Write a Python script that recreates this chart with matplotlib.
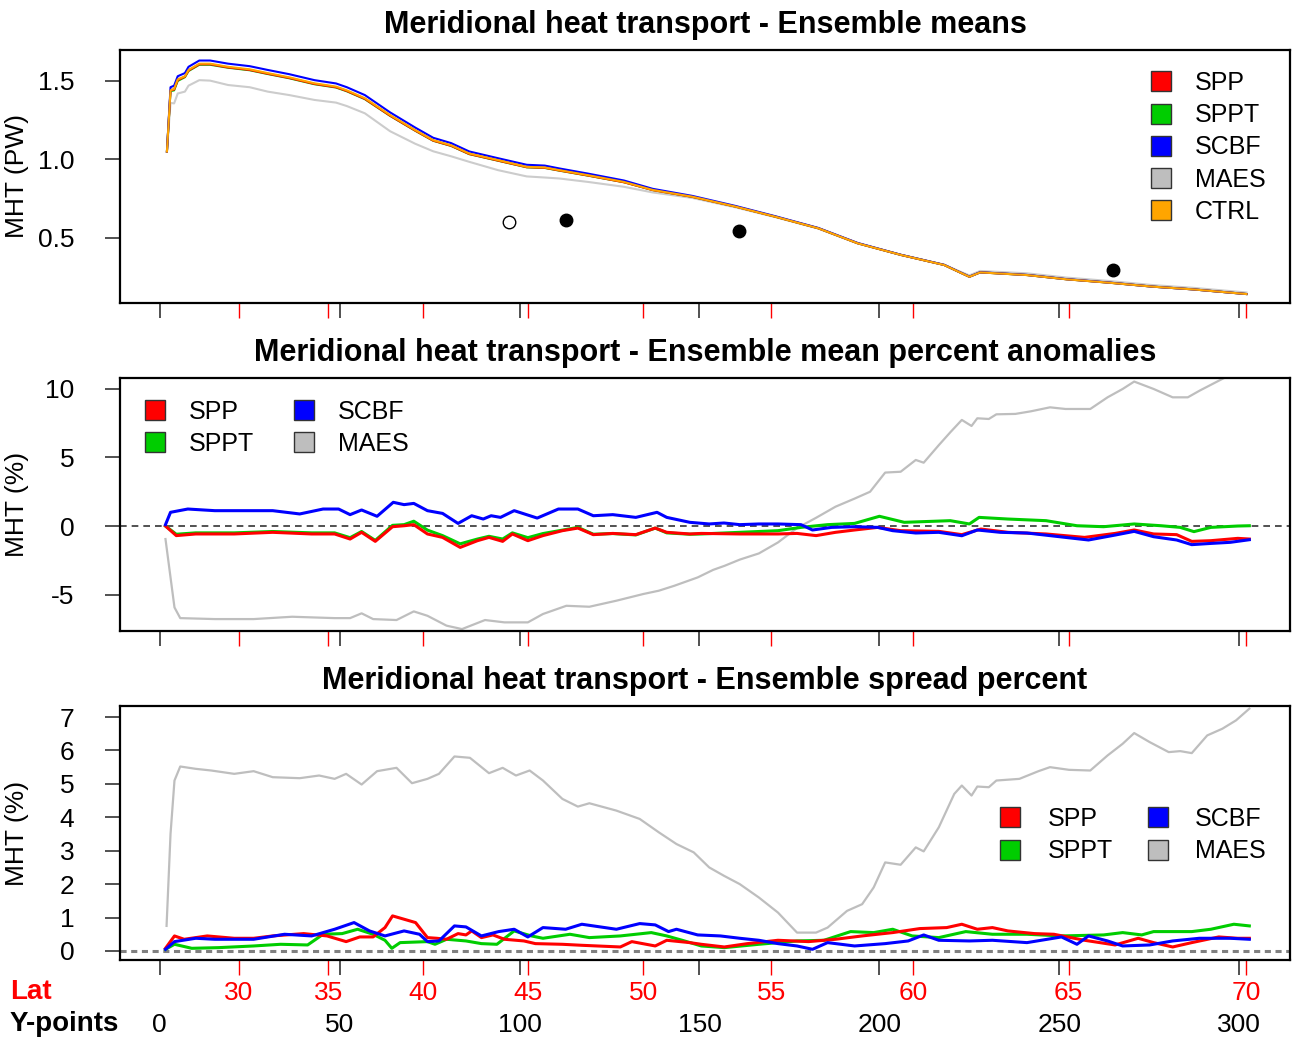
import matplotlib
matplotlib.use("Agg")
import matplotlib.pyplot as plt
from matplotlib.lines import Line2D

plt.rcParams['font.family'] = ['Liberation Sans', 'DejaVu Sans']
plt.rcParams['axes.unicode_minus'] = False

# colours used by the runs
c_spp = "#FF0000"
c_sppt = "#00CD00"
c_scbf = "#0000FF"
c_maes = "#BEBEBE"
c_ctrl = "#FFA500"

# x axis: model Y-points and matching latitudes
ypoint_ticks = [0, 50, 100, 150, 200, 250, 300]
lat_labels = [30, 35, 40, 45, 50, 55, 60, 65, 70]
lat_ypoints = [22, 46.8, 73.3, 102.3, 134.4, 170, 209.3, 252.6, 302]

# ---- panel 1: ensemble means (PW)
top_x = [2, 3, 4, 5, 7, 8, 11, 14, 19, 25, 30, 36, 43, 49, 52, 57, 64, 71, 76, 81,
         86, 94, 102, 107, 111, 119, 129, 137, 148, 160, 171, 183, 194, 206, 218,
         222, 225, 228, 241, 252, 264, 276, 287, 302]
top_ctrl = [1.05, 1.44, 1.45, 1.51, 1.53, 1.57, 1.61, 1.61, 1.59, 1.574, 1.55, 1.523,
            1.485, 1.464, 1.44, 1.39, 1.283, 1.187, 1.123, 1.09, 1.038, 0.996, 0.953,
            0.949, 0.932, 0.90, 0.857, 0.806, 0.763, 0.70, 0.636, 0.562, 0.466, 0.392,
            0.328, 0.285, 0.253, 0.281, 0.264, 0.237, 0.215, 0.19, 0.173, 0.143]
top_scbf = [1.05, 1.46, 1.47, 1.53, 1.55, 1.59, 1.63, 1.63, 1.61, 1.594, 1.57, 1.543,
            1.505, 1.484, 1.46, 1.41, 1.30, 1.203, 1.138, 1.104, 1.051, 1.008, 0.966,
            0.961, 0.943, 0.91, 0.866, 0.813, 0.768, 0.704, 0.639, 0.564, 0.468, 0.393,
            0.329, 0.286, 0.254, 0.282, 0.265, 0.238, 0.216, 0.19, 0.173, 0.143]
top_spp = [1.05, 1.44, 1.445, 1.505, 1.527, 1.566, 1.606, 1.606, 1.586, 1.570, 1.546,
           1.519, 1.481, 1.460, 1.436, 1.386, 1.279, 1.184, 1.120, 1.087, 1.035, 0.993,
           0.951, 0.947, 0.930, 0.898, 0.855, 0.805, 0.762, 0.70, 0.636, 0.562, 0.466,
           0.392, 0.328, 0.285, 0.253, 0.281, 0.264, 0.237, 0.215, 0.19, 0.173, 0.143]
top_sppt = [1.05, 1.435, 1.44, 1.50, 1.524, 1.563, 1.603, 1.603, 1.584, 1.568, 1.544,
            1.517, 1.479, 1.458, 1.434, 1.384, 1.278, 1.183, 1.119, 1.086, 1.034, 0.992,
            0.950, 0.946, 0.929, 0.897, 0.855, 0.805, 0.762, 0.70, 0.636, 0.562, 0.466,
            0.392, 0.328, 0.285, 0.253, 0.281, 0.264, 0.237, 0.215, 0.19, 0.173, 0.143]
top_maes = [1.05, 1.36, 1.357, 1.42, 1.432, 1.47, 1.505, 1.502, 1.474, 1.46, 1.432,
            1.41, 1.379, 1.362, 1.34, 1.294, 1.18, 1.10, 1.052, 1.02, 0.985, 0.932,
            0.892, 0.885, 0.879, 0.857, 0.826, 0.79, 0.755, 0.695, 0.633, 0.56, 0.465,
            0.392, 0.33, 0.29, 0.262, 0.29, 0.275, 0.248, 0.226, 0.2, 0.183, 0.153]
obs_open_x = [97]
obs_open_y = [0.602]
obs_x = [112.9, 161.1, 264.8]
obs_y = [0.615, 0.545, 0.296]

# ---- panel 2: ensemble mean percent anomalies
mid_blue_x = [1.6, 3, 7.8, 15.3, 31.4, 38.9, 45.4, 49.7, 52.9, 56.1, 60.4, 64.9, 67.9,
              70.6, 74.4, 78.6, 82.9, 86.7, 89.9, 92.1, 94.7, 98.5, 104.9, 110.8, 116.2,
              120.5, 125.9, 132.3, 138.2, 140.9, 147.3, 152.7, 156.8, 161.2, 166.5,
              171.8, 178.2, 181.4, 186.7, 193.1, 199.5, 203.7, 210.1, 216.5, 222.9,
              227.2, 233.6, 241, 251.7, 258.1, 265.5, 270.8, 276.2, 282.6, 286.8, 292.1,
              297.5, 302.8]
mid_blue = [0.1, 1.0, 1.24, 1.12, 1.12, 0.88, 1.24, 1.24, 0.83, 1.17, 0.71, 1.73, 1.56,
            1.65, 1.12, 0.92, 0.19, 0.75, 0.51, 0.75, 0.63, 1.12, 0.58, 1.24, 1.24, 0.75,
            0.83, 0.63, 1.0, 0.63, 0.27, 0.15, 0.22, 0.1, 0.15, 0.15, 0.1, -0.29, -0.1,
            -0.05, -0.1, -0.34, -0.51, -0.46, -0.71, -0.29, -0.46, -0.51, -0.83, -1.02,
            -0.66, -0.39, -0.78, -1.02, -1.36, -1.27, -1.19, -1.0]
mid_red_x = [1.6, 4.6, 10, 20.7, 31.4, 42.2, 48.6, 52.9, 56.1, 59.9, 64.7, 67.9, 70.6,
             74.4, 78.6, 83.5, 88.3, 91.5, 95.3, 98, 102.3, 106.5, 111.9, 116.2, 120.5,
             125.9, 132.3, 137.7, 140.9, 147.3, 150.5, 161.2, 171.8, 177.1, 182.4, 187.8,
             193.1, 199.5, 205.9, 216.5, 222.9, 228.2, 235.7, 246.3, 257, 265.5, 270.8,
             276.2, 282.6, 286.8, 292.1, 299.6, 302.8]
mid_red = [0, -0.7, -0.58, -0.58, -0.46, -0.58, -0.58, -0.95, -0.46, -1.12, -0.05, 0.02,
           0.1, -0.58, -0.83, -1.56, -1.07, -0.83, -1.12, -0.58, -1.07, -0.7, -0.34,
           -0.15, -0.63, -0.54, -0.63, -0.15, -0.46, -0.58, -0.54, -0.58, -0.58, -0.54,
           -0.7, -0.46, -0.29, -0.1, -0.34, -0.39, -0.63, -0.22, -0.46, -0.58, -0.83,
           -0.54, -0.29, -0.58, -0.63, -1.12, -1.07, -0.9, -0.95]
mid_green_x = [1.6, 4.6, 10, 20.7, 31.4, 42.2, 48.6, 52.9, 56.1, 59.9, 64.7, 67.9, 70.6,
               74.4, 78.6, 83.5, 88.3, 91.5, 95.3, 98, 102.3, 106.5, 111.9, 116.2, 120.5,
               125.9, 132.3, 137.7, 140.9, 147.3, 150.5, 161.2, 171.8, 178.2, 185.6,
               193.1, 200, 206.9, 214.4, 219.7, 225, 227.7, 235.7, 246.3, 254.9, 262.3,
               270.8, 278.3, 283.6, 287.4, 292.1, 299.6, 302.8]
mid_green = [0, -0.6, -0.5, -0.5, -0.4, -0.5, -0.5, -0.85, -0.4, -1.05, 0.05, 0.1, 0.35,
             -0.3, -0.7, -1.3, -0.95, -0.75, -0.95, -0.5, -0.85, -0.55, -0.3, -0.1, -0.6,
             -0.55, -0.65, -0.15, -0.5, -0.6, -0.58, -0.46, -0.34, -0.1, 0.1, 0.19, 0.71,
             0.27, 0.34, 0.39, 0.15, 0.63, 0.51, 0.39, 0.02, -0.05, 0.15, 0.02, -0.1,
             -0.41, -0.1, 0, 0.02]
mid_maes_x = [1.6, 3, 4.1, 5.7, 15.3, 26.1, 36.8, 48.6, 52.9, 56.1, 59.3, 65.8, 70.6,
              74.4, 79.7, 84, 90.4, 95.8, 102.3, 106.5, 113, 119.4, 126.9, 134.4, 138.7,
              143, 149.5, 153.8, 157, 161.2, 166.5, 171.8, 177.1, 182.4, 187.8, 193.1,
              197.4, 201.6, 205.9, 210.1, 212.3, 216.5, 219.7, 222.9, 225.6, 227.2, 230.4,
              232.5, 237.8, 242.1, 247.4, 251.7, 258.6, 263.4, 267.6, 270.8, 276.2, 281.5,
              285.7, 289, 294.3, 298, 302.8]
mid_maes = [-0.95, -3.75, -5.94, -6.72, -6.79, -6.79, -6.62, -6.72, -6.72, -6.37, -6.79,
            -6.86, -6.23, -6.55, -7.27, -7.52, -6.86, -7.03, -7.03, -6.42, -5.82, -5.89,
            -5.45, -4.96, -4.72, -4.36, -3.75, -3.2, -2.9, -2.45, -2.0, -1.2, -0.15,
            0.6, 1.41, 2.0, 2.5, 3.9, 3.96, 4.82, 4.62, 5.9, 6.84, 7.74, 7.3, 7.86,
            7.81, 8.15, 8.18, 8.37, 8.66, 8.54, 8.54, 9.39, 10.0, 10.54, 10.0, 9.39, 9.39,
            9.88, 10.6, 11.1, 11.5]

# ---- panel 3: ensemble spread percent
bot_maes_x = [1.9, 3, 4.1, 5.7, 10, 14.3, 20.7, 26.1, 31.4, 38.9, 44.3, 48.6, 51.8, 56.1,
              60.4, 65.8, 70.1, 74.4, 77.6, 81.9, 86.2, 91.5, 95.3, 99, 102.8, 106.5,
              111.9, 116.2, 119.4, 126.9, 133.4, 138.7, 143.6, 148.4, 152.7, 156.8,
              161.2, 166.5, 171.8, 177.1, 182.4, 185.6, 191, 195.2, 198.4, 201.6, 205.9,
              210.1, 212.3, 216.5, 220.8, 222.9, 225.6, 227.2, 230.4, 232.5, 238.9, 244.2,
              247.4, 252.7, 258.6, 263.4, 267.6, 270.8, 275.1, 280.4, 283.6, 286.8, 291.1,
              295.3, 299.1, 302.8]
bot_maes = [0.75, 3.5, 5.1, 5.52, 5.45, 5.4, 5.3, 5.38, 5.2, 5.17, 5.25, 5.15, 5.3, 4.98,
            5.38, 5.48, 5.02, 5.15, 5.3, 5.82, 5.78, 5.32, 5.48, 5.25, 5.4, 5.1, 4.55,
            4.32, 4.42, 4.2, 3.95, 3.55, 3.2, 2.95, 2.5, 2.25, 2.0, 1.6, 1.15, 0.55, 0.55,
            0.7, 1.2, 1.4, 1.9, 2.65, 2.58, 3.1, 2.98, 3.7, 4.7, 4.95, 4.65, 4.92, 4.9,
            5.1, 5.15, 5.38, 5.5, 5.42, 5.4, 5.85, 6.2, 6.52, 6.25, 5.95, 5.98, 5.92, 6.45,
            6.65, 6.9, 7.25]
bot_red_x = [1.6, 4.1, 6.8, 13.2, 20.7, 26.1, 31.4, 40, 46.5, 51.8, 55.6, 59.3, 62.6, 64.7,
             67.9, 71.1, 74.4, 77, 79.7, 82.9, 85.1, 86.7, 89.4, 92.6, 95.8, 101.2, 104.4,
             111.9, 117.3, 128, 131.2, 137.7, 140.9, 147.3, 150.5, 156.9, 163.3, 171.8,
             180.3, 187.8, 195.2, 203.7, 211.2, 218.7, 222.9, 227.2, 231.4, 235.7, 243.1,
             248.5, 257, 265.5, 271.9, 276.2, 281.5, 286.8, 294.3, 299.6, 302.8]
bot_red = [0.08, 0.45, 0.35, 0.45, 0.38, 0.38, 0.45, 0.52, 0.45, 0.28, 0.42, 0.42, 0.7,
           1.05, 0.95, 0.85, 0.4, 0.38, 0.35, 0.52, 0.48, 0.6, 0.4, 0.48, 0.35, 0.3, 0.22,
           0.2, 0.17, 0.12, 0.28, 0.15, 0.32, 0.25, 0.2, 0.12, 0.22, 0.32, 0.28, 0.35,
           0.45, 0.55, 0.67, 0.7, 0.8, 0.65, 0.7, 0.6, 0.52, 0.5, 0.32, 0.18, 0.38, 0.25,
           0.12, 0.25, 0.42, 0.38, 0.38]
bot_blue_x = [1.6, 4.1, 10, 15.3, 26.1, 34.7, 42.2, 48.6, 54, 58.3, 62.6, 67.9, 72.2, 74.4,
              77.6, 81.9, 85.1, 89.4, 94.2, 98.5, 102.3, 106.5, 112.8, 117.3, 126.9, 133.4,
              137.7, 141.4, 143.6, 149.5, 155.8, 161.2, 166.5, 171.8, 177.1, 181.4, 185.6,
              193.1, 201.6, 208, 212.3, 216.5, 225, 231.4, 241, 250.6, 254.9, 258.1, 263.4,
              267.6, 275.1, 281.5, 288.9, 297.5, 302.8]
bot_blue = [0.05, 0.28, 0.38, 0.35, 0.35, 0.5, 0.45, 0.65, 0.85, 0.6, 0.45, 0.6, 0.5, 0.28,
            0.3, 0.75, 0.72, 0.45, 0.58, 0.65, 0.42, 0.7, 0.65, 0.8, 0.65, 0.82, 0.78,
            0.58, 0.65, 0.48, 0.45, 0.38, 0.32, 0.22, 0.15, 0.05, 0.25, 0.15, 0.22, 0.3,
            0.48, 0.32, 0.3, 0.32, 0.25, 0.42, 0.2, 0.45, 0.3, 0.15, 0.18, 0.3, 0.38,
            0.38, 0.35]
bot_green_x = [1.6, 4.1, 8.9, 16.4, 26.1, 33.6, 41.1, 45.4, 50.7, 55, 59.3, 62.6, 64.5,
               66.8, 74.4, 76.5, 79.7, 85.1, 89.4, 93.7, 98.5, 103.3, 106.5, 114, 119.4,
               128, 136.6, 140.9, 145.2, 150.5, 156.9, 166.5, 177.1, 184.6, 192, 198.4,
               203.7, 209.1, 216.5, 224, 231.4, 241, 250.6, 262.3, 267.6, 272.9, 276.2,
               286.8, 292.1, 298.5, 302.8]
bot_green = [0.05, 0.2, 0.08, 0.1, 0.15, 0.2, 0.18, 0.5, 0.52, 0.65, 0.5, 0.32, 0.08, 0.25,
             0.28, 0.2, 0.35, 0.3, 0.22, 0.2, 0.6, 0.45, 0.38, 0.5, 0.4, 0.45, 0.55, 0.45,
             0.32, 0.15, 0.1, 0.2, 0.3, 0.32, 0.58, 0.55, 0.65, 0.45, 0.4, 0.58, 0.5, 0.5,
             0.45, 0.48, 0.55, 0.48, 0.58, 0.58, 0.65, 0.8, 0.75]

FS = 19
W, H = 1299, 1039
fig = plt.figure(figsize=(W / 100, H / 100), dpi=100)


def box(top, bottom):
    return [120 / W, 1 - bottom / H, 1170 / W, (bottom - top) / H]


def style(ax, title, ylabel, yticks, ylim, labels=False):
    ax.set_xlim(-11.04, 314.1)
    ax.set_ylim(*ylim)
    for s in ax.spines.values():
        s.set_linewidth(1.6)
    ax.set_xticks(ypoint_ticks)
    ax.set_xticks(lat_ypoints, minor=True)
    ax.set_yticks(yticks)
    ax.tick_params(axis='both', which='major', direction='out', length=11,
                   width=1.1, color='#222222', labelsize=FS)
    ax.tick_params(axis='y', pad=22)
    ax.tick_params(axis='x', which='minor', direction='out', length=11, width=1.0,
                   color='red', labelcolor='red', labelsize=FS)
    if labels:
        ax.set_xticklabels([str(v) for v in ypoint_ticks])
        ax.set_xticklabels([str(v) for v in lat_labels], minor=True)
        ax.tick_params(axis='x', which='minor', pad=4)
        ax.tick_params(axis='x', which='major', pad=27)
    else:
        ax.set_xticklabels([])
        ax.set_xticklabels([], minor=True)
    ax.set_title(title, fontsize=22, fontweight='bold', pad=12)
    ax.set_ylabel(ylabel, fontsize=FS)
    ax.yaxis.set_label_coords(-0.078, 0.5)


def square(color):
    return Line2D([], [], marker='s', ls='', markersize=14, mfc=color, mec='#333333',
                  mew=1.0)


leg_kw = dict(loc='upper left', bbox_transform=fig.transFigure, frameon=False,
              fontsize=18, borderpad=0, borderaxespad=0, handlelength=0.8,
              labelspacing=0.33)

# panel 1
ax1 = fig.add_axes(box(50, 303))
ax1.plot(top_x, top_maes, color='#CCCCCC', lw=1.5)
ax1.plot(top_x, top_sppt, color=c_sppt, lw=1.5)
ax1.plot(top_x, top_spp, color=c_spp, lw=1.5)
ax1.plot(top_x, top_scbf, color=c_scbf, lw=1.5)
ax1.plot(top_x, top_ctrl, color=c_ctrl, lw=1.5)
ax1.plot(obs_open_x, obs_open_y, 'o', mfc='white', mec='black', ms=9, mew=1)
ax1.plot(obs_x, obs_y, 'o', color='black', ms=9)
style(ax1, "Meridional heat transport - Ensemble means", "MHT (PW)",
      [0.5, 1.0, 1.5], (0.086, 1.697))
ax1.set_yticklabels(["0.5", "1.0", "1.5"])
ax1.legend([square(c) for c in [c_spp, c_sppt, c_scbf, c_maes, c_ctrl]],
           ["SPP", "SPPT", "SCBF", "MAES", "CTRL"],
           bbox_to_anchor=(1151 / W, 1 - 71 / H), handletextpad=0.95, **leg_kw)

# panel 2
ax2 = fig.add_axes(box(378, 631))
ax2.axhline(0, color='#333333', lw=1.2, ls=(0, (4, 3)))
ax2.plot(mid_maes_x, mid_maes, color=c_maes, lw=1.6)
ax2.plot(mid_green_x, mid_green, color=c_sppt, lw=2.2)
ax2.plot(mid_red_x, mid_red, color=c_spp, lw=2.2)
ax2.plot(mid_blue_x, mid_blue, color=c_scbf, lw=2.2)
style(ax2, "Meridional heat transport - Ensemble mean percent anomalies", "MHT (%)",
      [-5, 0, 5, 10], (-7.66, 10.8))
ax2.legend([square(c) for c in [c_spp, c_sppt, c_scbf, c_maes]],
           ["SPP", "SPPT", "SCBF", "MAES"], ncol=2,
           bbox_to_anchor=(145 / W, 1 - 400 / H), handletextpad=0.95,
           columnspacing=1.6, **leg_kw)

# panel 3
ax3 = fig.add_axes(box(706, 960))
ax3.axhline(0, color='#808080', lw=2.2, ls=(0, (2, 1.5)))
ax3.plot(bot_maes_x, bot_maes, color=c_maes, lw=1.6)
ax3.plot(bot_green_x, bot_green, color=c_sppt, lw=2.2)
ax3.plot(bot_red_x, bot_red, color=c_spp, lw=2.2)
ax3.plot(bot_blue_x, bot_blue, color=c_scbf, lw=2.2)
style(ax3, "Meridional heat transport - Ensemble spread percent", "MHT (%)",
      list(range(8)), (-0.27, 7.33), labels=True)
ax3.legend([square(c) for c in [c_spp, c_sppt, c_scbf, c_maes]],
           ["SPP", "SPPT", "SCBF", "MAES"], ncol=2,
           bbox_to_anchor=(1000 / W, 1 - 807 / H), handletextpad=1.1,
           columnspacing=1.4, **leg_kw)

fig.text(10 / W, 1 - 992 / H, "Lat", color='red', fontsize=20, fontweight='bold',
         va='center', ha='left')
fig.text(10 / W, 1 - 1024 / H, "Y-points", color='black', fontsize=20,
         fontweight='bold', va='center', ha='left')

fig.savefig("out.png", dpi=100)
